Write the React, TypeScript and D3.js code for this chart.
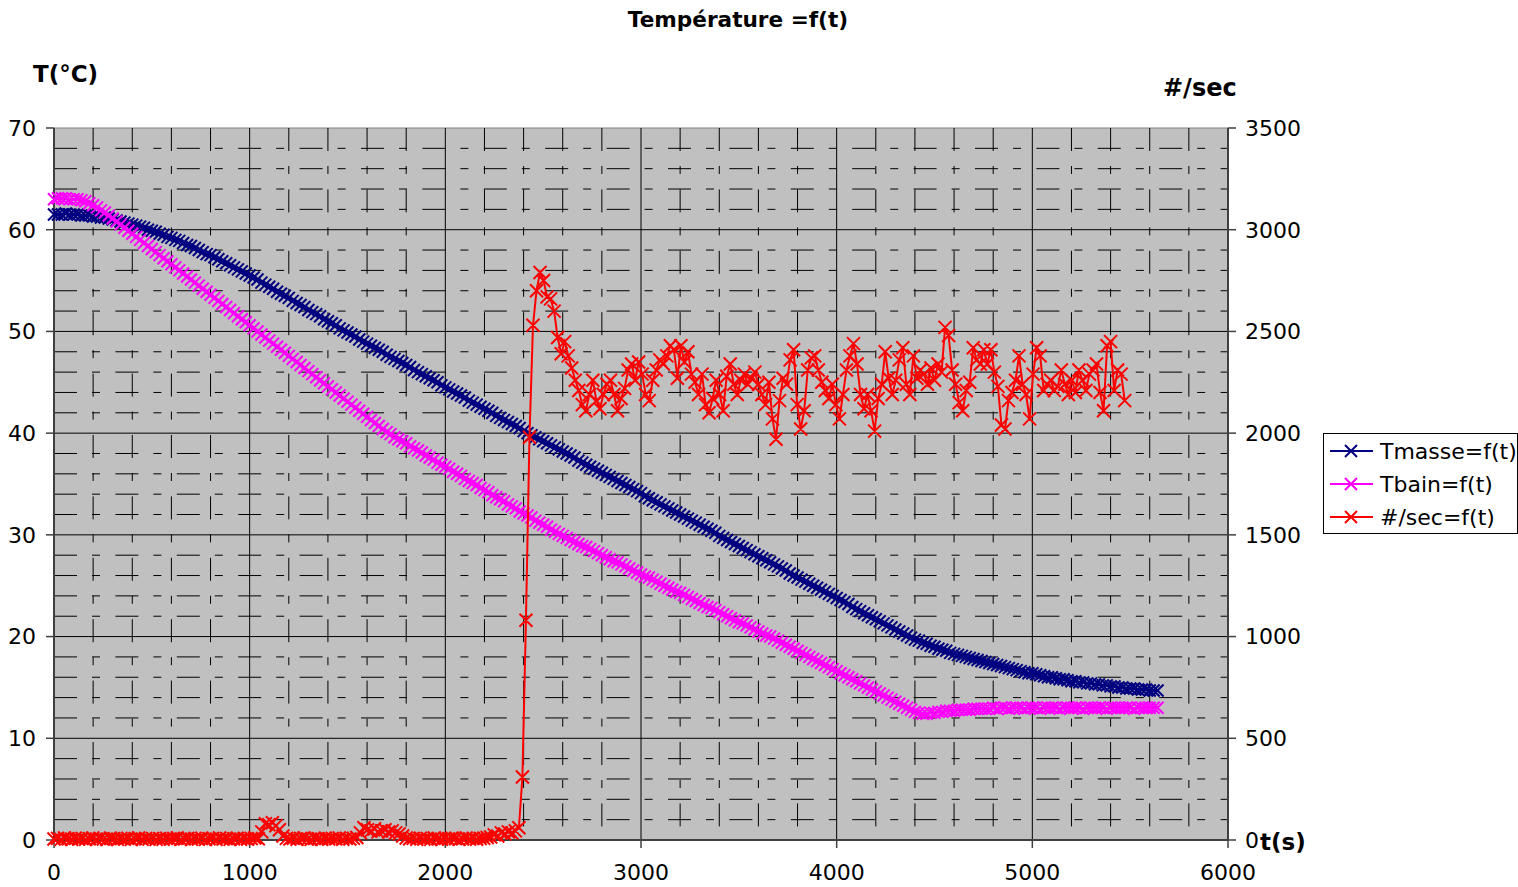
import React from "react";
import * as d3 from "d3";

// sampling interval (s) of the series
const TEMP_STEP = 20;
const RATE_STEP = 18;

// Tmasse (°C), one value every TEMP_STEP seconds from t = 0
const tMasse = [
  61.5, 61.5, 61.5, 61.6, 61.5, 61.5, 61.5, 61.4, 61.4, 61.4,
  61.3, 61.3, 61.2, 61.2, 61.1, 61.0, 60.9, 60.8, 60.7, 60.6,
  60.5, 60.4, 60.3, 60.2, 60.0, 59.9, 59.8, 59.6, 59.5, 59.3,
  59.2, 59.0, 58.9, 58.7, 58.5, 58.4, 58.2, 58.0, 57.8, 57.6,
  57.5, 57.3, 57.1, 56.9, 56.7, 56.5, 56.3, 56.1, 55.9, 55.7,
  55.5, 55.3, 55.1, 54.8, 54.6, 54.4, 54.2, 53.9, 53.7, 53.5,
  53.3, 53.0, 52.8, 52.6, 52.4, 52.1, 51.9, 51.7, 51.5, 51.2,
  51.0, 50.8, 50.6, 50.3, 50.1, 49.9, 49.7, 49.5, 49.2, 49.0,
  48.8, 48.6, 48.4, 48.2, 48.0, 47.7, 47.5, 47.3, 47.1, 46.9,
  46.7, 46.5, 46.2, 46.0, 45.8, 45.6, 45.4, 45.2, 45.0, 44.7,
  44.5, 44.3, 44.1, 43.9, 43.7, 43.5, 43.2, 43.0, 42.8, 42.6,
  42.4, 42.2, 42.0, 41.7, 41.5, 41.3, 41.1, 40.9, 40.7, 40.5,
  40.2, 40.0, 39.8, 39.6, 39.4, 39.2, 39.0, 38.8, 38.6, 38.4,
  38.2, 38.0, 37.8, 37.6, 37.3, 37.1, 36.9, 36.7, 36.5, 36.3,
  36.1, 35.9, 35.7, 35.5, 35.3, 35.1, 34.9, 34.7, 34.5, 34.3,
  34.1, 33.8, 33.6, 33.4, 33.2, 33.0, 32.8, 32.6, 32.4, 32.2,
  32.0, 31.8, 31.6, 31.4, 31.2, 31.0, 30.8, 30.6, 30.4, 30.2,
  29.9, 29.7, 29.5, 29.3, 29.1, 28.9, 28.7, 28.5, 28.3, 28.1,
  27.9, 27.7, 27.5, 27.3, 27.1, 26.9, 26.7, 26.5, 26.2, 26.0,
  25.8, 25.6, 25.4, 25.2, 25.0, 24.8, 24.6, 24.4, 24.2, 24.0,
  23.8, 23.6, 23.4, 23.2, 22.9, 22.7, 22.5, 22.3, 22.1, 21.9,
  21.7, 21.5, 21.3, 21.1, 20.9, 20.7, 20.5, 20.3, 20.1, 19.9,
  19.7, 19.6, 19.4, 19.3, 19.1, 19.0, 18.8, 18.7, 18.6, 18.4,
  18.3, 18.2, 18.1, 18.0, 17.9, 17.8, 17.7, 17.6, 17.5, 17.4,
  17.3, 17.2, 17.1, 17.0, 16.9, 16.8, 16.7, 16.6, 16.5, 16.4,
  16.4, 16.3, 16.2, 16.1, 16.0, 16.0, 15.9, 15.8, 15.8, 15.7,
  15.6, 15.6, 15.5, 15.5, 15.4, 15.4, 15.3, 15.3, 15.2, 15.2,
  15.1, 15.1, 15.0, 15.0, 14.9, 14.9, 14.9, 14.8, 14.8, 14.8,
  14.7, 14.7, 14.7,
];

// Tbain (°C), one value every TEMP_STEP seconds from t = 0
const tBain = [
  63.0, 63.1, 63.1, 63.1, 63.0, 63.0, 63.0, 62.9, 62.8, 62.6,
  62.4, 62.2, 61.9, 61.7, 61.4, 61.1, 60.8, 60.5, 60.2, 59.9,
  59.6, 59.3, 59.0, 58.7, 58.4, 58.1, 57.8, 57.5, 57.2, 56.9,
  56.6, 56.3, 56.0, 55.7, 55.4, 55.1, 54.8, 54.5, 54.2, 53.9,
  53.6, 53.3, 53.0, 52.7, 52.4, 52.1, 51.8, 51.5, 51.2, 50.9,
  50.6, 50.3, 50.0, 49.7, 49.4, 49.1, 48.8, 48.5, 48.2, 47.9,
  47.6, 47.3, 47.0, 46.7, 46.4, 46.1, 45.8, 45.5, 45.2, 44.9,
  44.6, 44.3, 44.0, 43.7, 43.4, 43.1, 42.8, 42.5, 42.2, 41.9,
  41.6, 41.3, 41.0, 40.7, 40.4, 40.1, 39.9, 39.6, 39.4, 39.2,
  39.0, 38.7, 38.5, 38.3, 38.1, 37.8, 37.6, 37.4, 37.1, 36.9,
  36.7, 36.5, 36.2, 36.0, 35.8, 35.5, 35.3, 35.1, 34.9, 34.6,
  34.4, 34.2, 33.9, 33.7, 33.5, 33.3, 33.0, 32.8, 32.6, 32.3,
  32.1, 31.9, 31.7, 31.4, 31.2, 31.0, 30.8, 30.5, 30.3, 30.1,
  29.9, 29.7, 29.5, 29.3, 29.1, 28.9, 28.8, 28.6, 28.4, 28.2,
  28.0, 27.8, 27.6, 27.4, 27.3, 27.1, 26.9, 26.7, 26.5, 26.3,
  26.1, 25.9, 25.8, 25.6, 25.4, 25.2, 25.0, 24.8, 24.6, 24.4,
  24.3, 24.1, 23.9, 23.7, 23.5, 23.3, 23.1, 22.9, 22.8, 22.6,
  22.4, 22.2, 22.0, 21.8, 21.6, 21.4, 21.3, 21.1, 20.9, 20.7,
  20.5, 20.3, 20.1, 20.0, 19.8, 19.6, 19.4, 19.2, 19.0, 18.8,
  18.6, 18.4, 18.2, 18.0, 17.8, 17.6, 17.4, 17.2, 17.0, 16.8,
  16.6, 16.4, 16.2, 16.0, 15.8, 15.6, 15.4, 15.2, 15.0, 14.8,
  14.6, 14.4, 14.2, 14.0, 13.8, 13.6, 13.4, 13.2, 13.0, 12.8,
  12.6, 12.5, 12.4, 12.4, 12.5, 12.5, 12.6, 12.6, 12.7, 12.7,
  12.7, 12.8, 12.8, 12.8, 12.8, 12.9, 12.9, 12.9, 12.9, 12.9,
  13.0, 12.9, 13.0, 13.0, 12.9, 13.0, 13.0, 13.0, 12.9, 13.0,
  13.0, 13.0, 12.9, 13.0, 13.0, 13.0, 13.0, 12.9, 13.0, 13.0,
  13.0, 13.0, 13.0, 12.9, 13.0, 13.0, 13.0, 13.0, 13.0, 12.9,
  13.0, 13.0, 13.0, 13.0, 13.0, 13.0, 12.9, 13.0, 13.0, 13.0,
  13.0, 13.0, 13.0,
];

// #/sec, one value every RATE_STEP seconds from t = 0
const rate = [
  5, 8, 3, 10, 6, 4, 9, 5, 7, 3,
  6, 10, 4, 8, 5, 3, 9, 6, 4, 7,
  5, 9, 3, 6, 10, 4, 7, 5, 8, 3,
  6, 4, 9, 5, 7, 10, 3, 6, 8, 4,
  7, 5, 9, 3, 6, 8, 4, 10, 5, 7,
  3, 6, 9, 4, 8, 5, 7, 10, 6, 40,
  80, 75, 85, 70, 50, 20, 8, 5, 9, 4,
  7, 10, 5, 3, 8, 6, 4, 9, 5, 7,
  6, 10, 4, 8, 5, 9, 12, 35, 60, 50,
  45, 55, 40, 45, 50, 40, 45, 35, 30, 20,
  10, 6, 8, 4, 9, 5, 7, 3, 10, 6,
  4, 8, 5, 9, 7, 3, 6, 10, 5, 8,
  4, 7, 9, 12, 15, 25, 20, 35, 30, 40,
  35, 45, 60, 310, 1080, 1980, 2530,
  2700, 2790, 2750, 2670, 2660, 2600, 2470, 2390, 2450, 2380,
  2320, 2260, 2210, 2140, 2110, 2190, 2260, 2160, 2120, 2190,
  2240, 2260, 2190, 2110, 2170, 2220, 2310, 2340, 2260, 2350,
  2290, 2190, 2160, 2260, 2310, 2360, 2340, 2380, 2430, 2410,
  2270, 2430, 2350, 2400, 2290, 2250, 2190, 2290, 2140, 2100,
  2170, 2260, 2190, 2110, 2280, 2340, 2240, 2190, 2260, 2290,
  2240, 2270, 2300, 2240, 2190, 2140, 2250, 2070, 1970, 2160,
  2270, 2240, 2360, 2410, 2140, 2020, 2110, 2310, 2370, 2380,
  2310, 2250, 2210, 2170, 2240, 2140, 2070, 2190, 2310, 2380,
  2440, 2340, 2190, 2120, 2190, 2110, 2010, 2170, 2240, 2400,
  2270, 2190, 2260, 2360, 2420, 2240, 2190, 2380, 2270, 2310,
  2290, 2240, 2320, 2260, 2340, 2300, 2520, 2480, 2310, 2240,
  2150, 2110, 2210, 2250, 2420, 2360, 2340, 2410, 2340, 2410,
  2300, 2230, 2040, 2020, 2160, 2200, 2260, 2380, 2240, 2190,
  2070, 2290, 2420, 2380, 2210, 2240, 2260, 2210, 2230, 2310,
  2240, 2190, 2260, 2200, 2310, 2260, 2210, 2290, 2310, 2340,
  2200, 2110, 2430, 2450, 2210, 2310, 2290, 2160,
];

const seriesNames = ["Tmasse=f(t)", "Tbain=f(t)", "#/sec=f(t)"];
const seriesColors = ["#000080", "#FF00FF", "#FF0000"];

const xTicks = [0, 1000, 2000, 3000, 4000, 5000, 6000];
const yLeftTicks = [0, 10, 20, 30, 40, 50, 60, 70];
const yRightTicks = [0, 500, 1000, 1500, 2000, 2500, 3000, 3500];

const FONT = "'DejaVu Sans', Verdana, sans-serif";
const DASH = "23,15,8,15.4";

function crosses(pts: [number, number][], s: number) {
  return pts
    .map(([px, py]) => `M${px - s},${py - s}L${px + s},${py + s}M${px - s},${py + s}L${px + s},${py - s}`)
    .join("");
}

export default function App() {
  const L = 54, R = 1228, T = 128, B = 840;
  const x = d3.scaleLinear().domain([0, 6000]).range([L, R]);
  const yL = d3.scaleLinear().domain([0, 70]).range([B, T]);
  const yR = d3.scaleLinear().domain([0, 3500]).range([B, T]);

  const ptsMasse: [number, number][] = tMasse.map((v, i) => [x(i * TEMP_STEP), yL(v)]);
  const ptsBain: [number, number][] = tBain.map((v, i) => [x(i * TEMP_STEP), yL(v)]);
  const ptsRate: [number, number][] = rate.map((v, i) => [x(i * RATE_STEP), yR(v)]);
  const line = d3.line<[number, number]>();

  const minorX = d3.range(200, 6000, 200).filter((v) => v % 1000 !== 0);
  const minorY = d3.range(2, 70, 2).filter((v) => v % 10 !== 0);
  const majorX = xTicks.filter((v) => v > 0 && v < 6000);
  const majorY = yLeftTicks.filter((v) => v > 0 && v < 70);

  const legendRows = [451, 484, 517];

  return (
    <svg width={1518} height={887} style={{ position: "absolute", left: 0, top: 0, background: "#fff" }} fontFamily={FONT}>
      <rect x={0} y={0} width={1518} height={887} fill="#fff" />
      <text x={738} y={27} textAnchor="middle" fontSize={21.6} fontWeight="bold">Température =f(t)</text>
      <text x={33} y={82} fontSize={23} fontWeight="bold">T(°C)</text>
      <text x={1163} y={96} fontSize={24} fontWeight="bold">#/sec</text>

      {/* plot area */}
      <rect x={L} y={T} width={R - L} height={B - T} fill="#C0C0C0" stroke="#808080" strokeWidth={1} />

      {/* minor grid */}
      {minorY.map((v) => (
        <line key={"my" + v} x1={L} x2={R} y1={yL(v)} y2={yL(v)} stroke="#000" strokeWidth={1} strokeDasharray={DASH} />
      ))}
      {minorX.map((v) => (
        <line key={"mx" + v} x1={x(v)} x2={x(v)} y1={T} y2={B} stroke="#000" strokeWidth={1} strokeDasharray={DASH} />
      ))}
      {/* major grid */}
      {majorY.map((v) => (
        <line key={"gy" + v} x1={L} x2={R} y1={yL(v)} y2={yL(v)} stroke="#000" strokeWidth={1} />
      ))}
      {majorX.map((v) => (
        <line key={"gx" + v} x1={x(v)} x2={x(v)} y1={T} y2={B} stroke="#000" strokeWidth={1} />
      ))}

      {/* axes */}
      <line x1={L} x2={L} y1={T} y2={B} stroke="#404040" strokeWidth={2} />
      <line x1={R} x2={R} y1={T} y2={B} stroke="#404040" strokeWidth={2} />
      <line x1={L} x2={R} y1={B} y2={B} stroke="#404040" strokeWidth={2} />
      {yLeftTicks.map((v) => (
        <g key={"yl" + v}>
          <line x1={L - 8} x2={L} y1={yL(v)} y2={yL(v)} stroke="#404040" strokeWidth={1.5} />
          <text x={36} y={yL(v)} dy="0.36em" textAnchor="end" fontSize={22}>{v}</text>
        </g>
      ))}
      {yRightTicks.map((v) => (
        <g key={"yr" + v}>
          <line x1={R} x2={R + 8} y1={yR(v)} y2={yR(v)} stroke="#404040" strokeWidth={1.5} />
          <text x={1245} y={yR(v)} dy="0.36em" fontSize={22}>{v}</text>
        </g>
      ))}
      {xTicks.map((v) => (
        <g key={"xt" + v}>
          <line x1={x(v)} x2={x(v)} y1={B} y2={B + 8} stroke="#404040" strokeWidth={1.5} />
          <text x={x(v)} y={880} textAnchor="middle" fontSize={22}>{v}</text>
        </g>
      ))}
      <text x={1260} y={850} fontSize={23} fontWeight="bold">t(s)</text>

      {/* series */}
      <path d={line(ptsMasse) || ""} fill="none" stroke={seriesColors[0]} strokeWidth={2} />
      <path d={crosses(ptsMasse, 6)} fill="none" stroke={seriesColors[0]} strokeWidth={2} />
      <path d={line(ptsBain) || ""} fill="none" stroke={seriesColors[1]} strokeWidth={2} />
      <path d={crosses(ptsBain, 6)} fill="none" stroke={seriesColors[1]} strokeWidth={2} />
      <path d={line(ptsRate) || ""} fill="none" stroke={seriesColors[2]} strokeWidth={2} />
      <path d={crosses(ptsRate, 6.5)} fill="none" stroke={seriesColors[2]} strokeWidth={2} />

      {/* legend */}
      <rect x={1323.5} y={433.5} width={194} height={100} fill="#fff" stroke="#000" strokeWidth={1} />
      {seriesNames.map((name, i) => (
        <g key={name}>
          <line x1={1330} x2={1373} y1={legendRows[i]} y2={legendRows[i]} stroke={seriesColors[i]} strokeWidth={2} />
          <path d={crosses([[1351, legendRows[i]]], 6)} stroke={seriesColors[i]} strokeWidth={2} fill="none" />
          <text x={1380} y={legendRows[i]} dy="0.36em" fontSize={22}>{name}</text>
        </g>
      ))}
    </svg>
  );
}
